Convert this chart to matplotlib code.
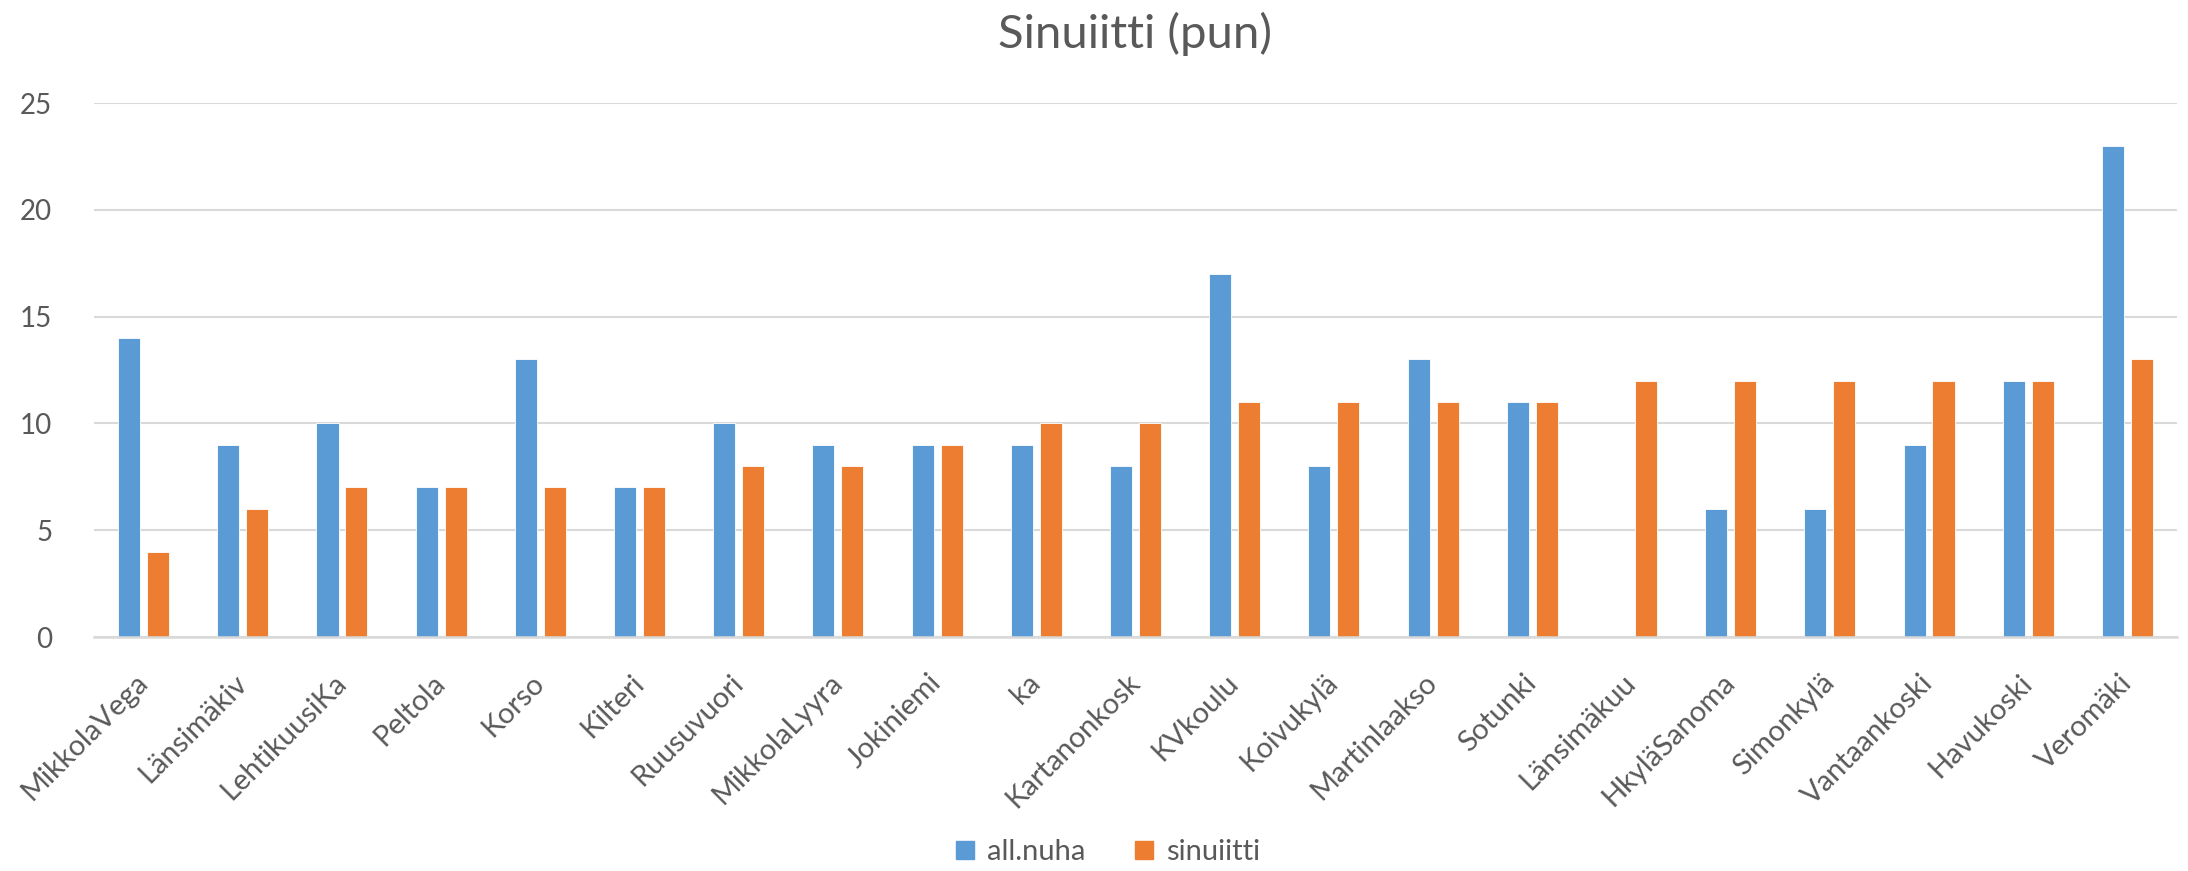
import matplotlib

matplotlib.use("Agg")
import matplotlib.pyplot as plt
from matplotlib.lines import Line2D
import numpy as np

categories = [
    "MikkolaVega", "Länsimäkiv", "LehtikuusiKa", "Peltola", "Korso", "Kilteri",
    "Ruusuvuori", "MikkolaLyyra", "Jokiniemi", "ka", "Kartanonkosk", "KVkoulu",
    "Koivukylä", "Martinlaakso", "Sotunki", "Länsimäkuu", "HkyläSanoma",
    "Simonkylä", "Vantaankoski", "Havukoski", "Veromäki",
]
all_nuha = [14, 9, 10, 7, 13, 7, 10, 9, 9, 9, 8, 17, 8, 13, 11, np.nan, 6, 6, 9, 12, 23]
sinuiitti = [4, 6, 7, 7, 7, 7, 8, 8, 9, 10, 10, 11, 11, 11, 11, 12, 12, 12, 12, 12, 13]
yticks = [0, 5, 10, 15, 20, 25]

plt.rcParams["font.family"] = ["Lato", "DejaVu Sans"]
TEXT = "#595959"
BLUE = "#5B9BD5"
ORANGE = "#ED7D31"

W, H = 2188, 871
fig = plt.figure(figsize=(W / 100, H / 100), dpi=100)
left, right, top, bottom = 94, 2177, 103, 637
ax = fig.add_axes([left / W, 1 - bottom / H, (right - left) / W, (bottom - top) / H])

x = np.arange(len(categories))
bw = 0.222
off = 0.146
ax.bar(x - off, all_nuha, width=bw, color=BLUE, zorder=3,
       edgecolor="white", linewidth=0.6)
ax.bar(x + off, sinuiitti, width=bw, color=ORANGE, zorder=3,
       edgecolor="white", linewidth=0.6)

ax.set_xlim(-0.5, len(categories) - 0.5)
ax.set_ylim(0, 25)
ax.set_yticks(yticks)
ax.grid(True, axis="y", color="#d9d9d9", linewidth=1.5, zorder=0)
for side in ["top", "right", "left"]:
    ax.spines[side].set_visible(False)
ax.spines["bottom"].set_color("#d9d9d9")
ax.spines["bottom"].set_linewidth(1.8)
ax.spines["bottom"].set_zorder(4)

ax.tick_params(axis="y", length=0, pad=30, labelsize=20, labelcolor=TEXT)
ax.tick_params(axis="x", length=0, pad=30, labelsize=21, labelcolor=TEXT)
ax.set_xticks(x)
ax.set_xticklabels(categories, rotation=45, ha="right", va="center",
                   rotation_mode="anchor")

fig.text((left + right) / 2 / W, 1 - 34 / H, "Sinuiitti (pun)", ha="center",
         va="center", fontsize=34, color=TEXT)

handles = [
    Line2D([], [], marker="s", linestyle="", markersize=13, color=BLUE, label="all.nuha"),
    Line2D([], [], marker="s", linestyle="", markersize=13, color=ORANGE, label="sinuiitti"),
]
fig.legend(handles=handles, loc="center", bbox_to_anchor=(1108 / W, 1 - 852 / H),
           ncol=2, frameon=False, fontsize=21, labelcolor=TEXT, handlelength=0.6,
           handletextpad=0.45, columnspacing=1.7)

fig.savefig("out.png", dpi=100)
